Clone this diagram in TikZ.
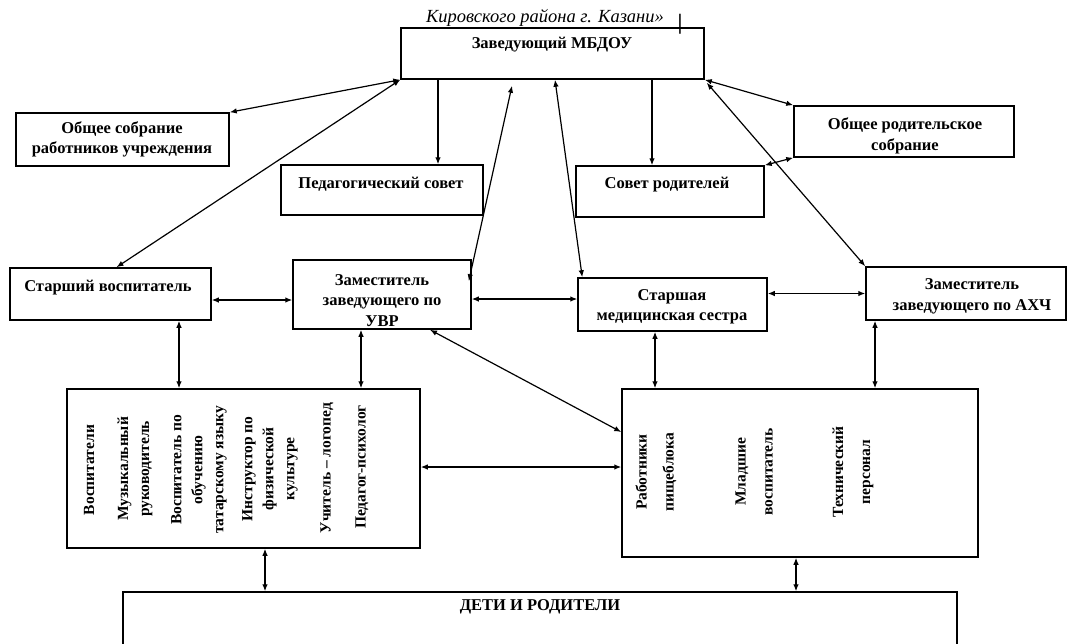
\documentclass[tikz,border=0pt]{standalone}
\usepackage{fontspec}
\setmainfont{Liberation Serif}
\usetikzlibrary{arrows.meta}
\begin{document}
\begin{tikzpicture}[x=1pt,y=-1pt,
  box/.style={draw, line width=1.5pt, inner sep=0pt, rectangle},
  txt/.style={font=\bfseries\fontsize{16.5}{20.5}\selectfont, align=center, inner sep=0pt},
  vtxt/.style={font=\bfseries\fontsize{15.5}{21}\selectfont, align=center, inner sep=0pt, rotate=90},
  vtxtw/.style={vtxt, font=\bfseries\fontsize{15.5}{27}\selectfont},
  conn/.style={line width=1.2pt, {Latex[length=7pt,width=5.5pt]}-{Latex[length=7pt,width=5.5pt]}},
  oneway/.style={line width=1.2pt, -{Latex[length=7pt,width=5.5pt]}}]
\path[use as bounding box, fill=white] (0,0) rectangle (1068,643);

% title
\node[inner sep=0pt, font=\itshape\fontsize{18.5}{20}\selectfont] (title) at (545,19) {\underline{Кировского района г. Казани»}};
\node[inner sep=0pt, font=\bfseries\fontsize{22}{24}\selectfont] (mark) at (680,24) {|};

% boxes
\node[box, minimum width=303, minimum height=51] (zav) at (552.5,53.5) {};
\node[box, minimum width=213, minimum height=53] (os) at (122.5,139.5) {};
\node[box, minimum width=202, minimum height=50] (ped) at (382,190) {};
\node[box, minimum width=188, minimum height=51] (sr) at (670,191.5) {};
\node[box, minimum width=220, minimum height=51] (ors) at (904,131.5) {};
\node[box, minimum width=201, minimum height=52] (sv) at (110.5,294) {};
\node[box, minimum width=178, minimum height=69] (uvr) at (382,294.5) {};
\node[box, minimum width=189, minimum height=53] (ms) at (672.5,304.5) {};
\node[box, minimum width=200, minimum height=53] (akh) at (966,293.5) {};
\node[box, minimum width=353, minimum height=159] (lb) at (243.5,468.5) {};
\node[box, minimum width=356, minimum height=168] (rb) at (800,473) {};
\node[box, minimum width=834, minimum height=100] (deti) at (540,642) {};

% texts
\node[txt] (zavT) at (552,45) {Заведующий МБДОУ};
\node[txt] (osT) at (122,139.5) {Общее собрание\\работников учреждения};
\node[txt] (pedT) at (381,184) {Педагогический совет};
\node[txt] (srT) at (667,185) {Совет родителей};
\node[txt] (orsT) at (905,136) {Общее родительское\\собрание};
\node[txt] (svT) at (108,288) {Старший воспитатель};
\node[txt] (uvrT) at (382,300.5) {Заместитель\\заведующего по\\УВР};
\node[txt] (msT) at (672,307) {Старшая\\медицинская сестра};
\node[txt] (akhT) at (972,296.5) {Заместитель\\заведующего по АХЧ};
\node[txt] (detiT) at (540,607) {ДЕТИ И РОДИТЕЛИ};

% vertical texts, left block
\node[vtxt] (v1) at (89,470) {Воспитатели};
\node[vtxt] (v2) at (135,469) {Музыкальный\\руководитель};
\node[vtxt] (v3) at (199,470) {Воспитатель по\\обучению\\татарскому языку};
\node[vtxt] (v4) at (270,469) {Инструктор по\\физической\\культуре};
\node[vtxt] (v5) at (327,468) {Учитель – логопед};
\node[vtxt] (v6) at (362,467) {Педагог-психолог};
% vertical texts, right block
\node[vtxtw] (w1) at (656,472) {Работники\\пищеблока};
\node[vtxtw] (w2) at (754,472) {Младшие\\воспитатель};
\node[vtxtw] (w3) at (853,472) {Технический\\персонал};

% connectors from the head
\draw[conn] (zav.south west) -- (os.north east);
\draw[conn] (zav.south west) -- ([xshift=6pt]sv.north);
\path ([xshift=56pt]ped.north) coordinate (cP);
\draw[oneway] (zav.south -| cP) -- (cP);
\path ([xshift=-40.5pt,yshift=-6pt]zav.south) coordinate (cU);
\draw[conn] ([xshift=-3pt,yshift=-22pt]uvr.north east) -- (cU);
\draw[conn] ([xshift=5pt]ms.north west) -- ([xshift=2.5pt]zav.south);
\path ([xshift=-18pt]sr.north) coordinate (cS);
\draw[oneway] (zav.south -| cS) -- (cS);
\draw[conn] (zav.south east) -- (ors.north west);
\draw[conn] ([xshift=2pt,yshift=-3pt]zav.south east) -- (akh.north west);
\draw[conn] (sr.north east) -- (ors.south west);

% middle row
\draw[conn] ([yshift=-6pt]sv.east) -- ([yshift=-6pt]sv.east -| uvr.west);
\draw[conn] ([yshift=-4.5pt]uvr.east) -- ([yshift=-4.5pt]uvr.east -| ms.west);
\draw[conn] (ms.east |- akh.west) -- (akh.west);

% down to the blocks
\path ([xshift=68.5pt]sv.south) coordinate (cM);
\draw[conn] (cM) -- (lb.north -| cM);
\path ([xshift=-21pt]uvr.south) coordinate (cN);
\draw[conn] (cN) -- (lb.north -| cN);
\draw[conn] ([xshift=48pt]uvr.south) -- ([yshift=41pt]rb.west);
\draw[conn] ([yshift=1.5pt]lb.east) -- ([yshift=1.5pt]lb.east -| rb.west);
\path ([xshift=-17.5pt]ms.south) coordinate (cQ);
\draw[conn] (cQ) -- (rb.north -| cQ);
\path ([xshift=-91pt]akh.south) coordinate (cR);
\draw[conn] (cR) -- (rb.north -| cR);

% to children and parents
\path ([xshift=21.5pt]lb.south) coordinate (cL);
\draw[conn] (cL) -- (deti.north -| cL);
\path ([xshift=-4pt]rb.south) coordinate (cT);
\draw[conn] (cT) -- (deti.north -| cT);
\end{tikzpicture}
\end{document}
